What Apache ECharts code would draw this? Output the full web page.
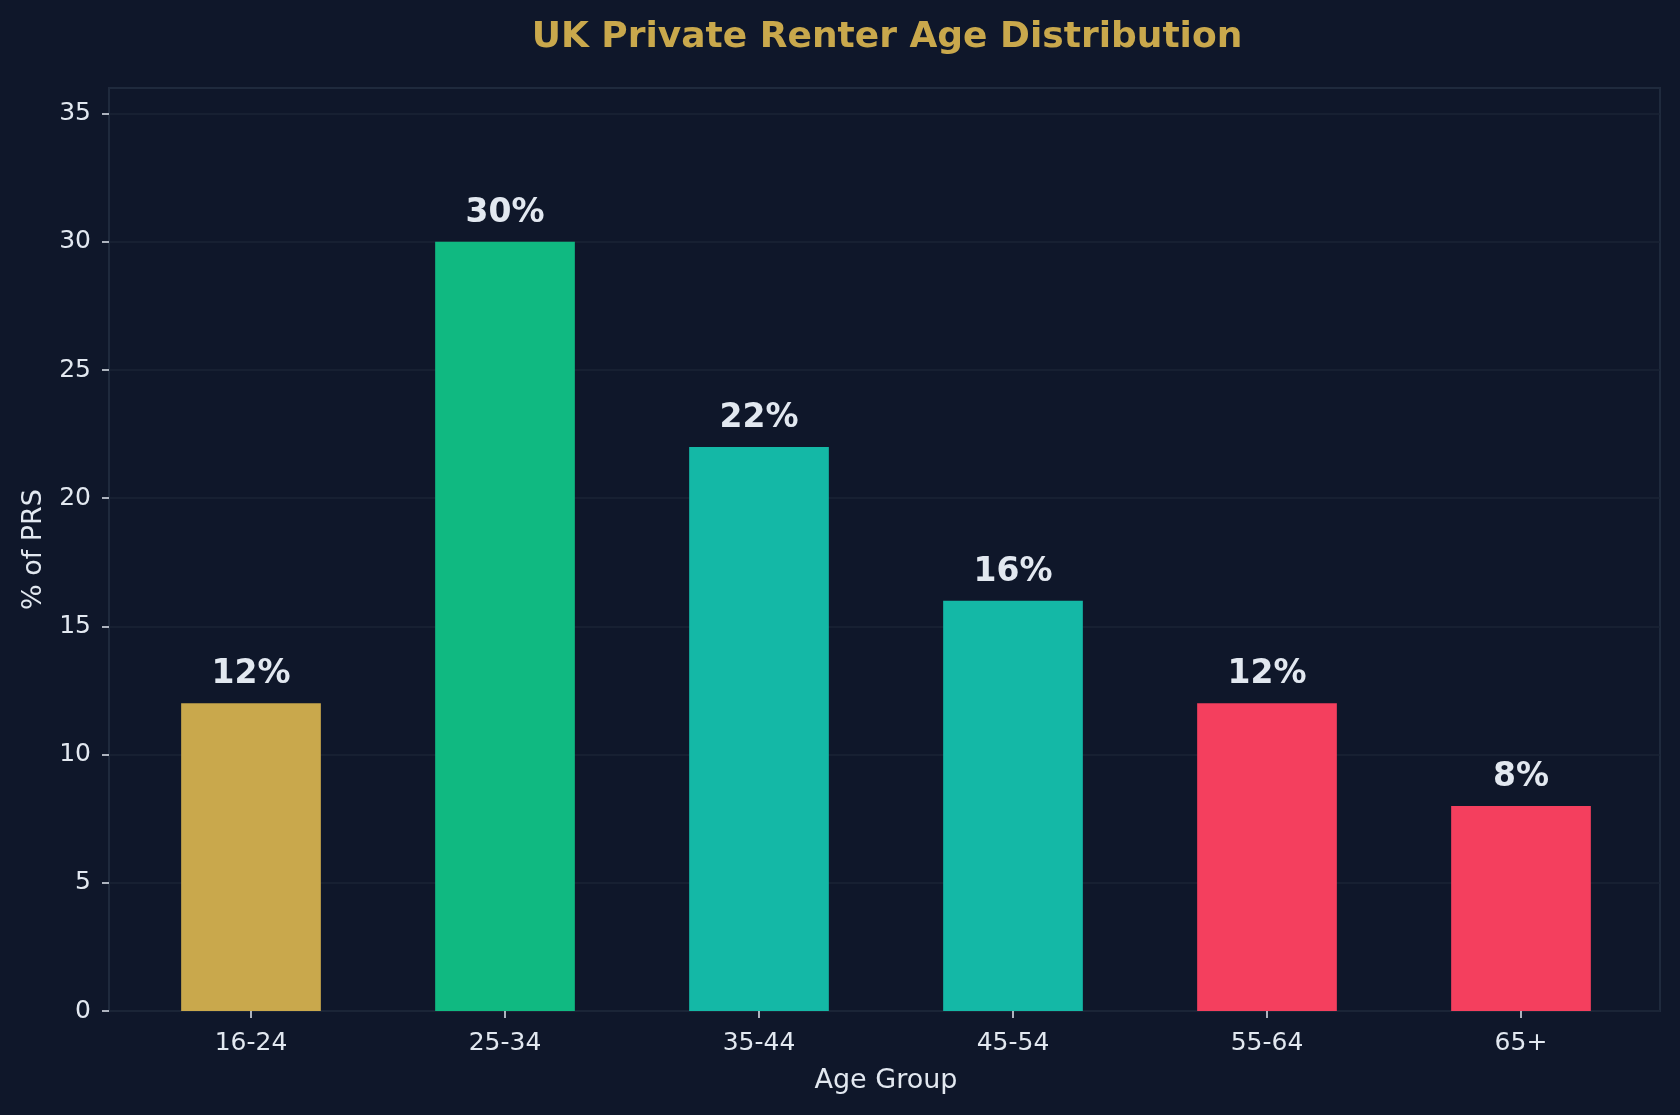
<!DOCTYPE html>
<html>
<head>
<meta charset="utf-8">
<script src="https://cdn.jsdelivr.net/npm/echarts@6/dist/echarts.min.js"></script>
<style>
  html, body { margin: 0; padding: 0; background: #0f172a; }
  #chart { width: 1680px; height: 1115px; }
</style>
</head>
<body>
<div id="chart"></div>
<script>
const ageGroups = ['16-24', '25-34', '35-44', '45-54', '55-64', '65+']
const sharePct = [12, 30, 22, 16, 12, 8]
const barColors = ['#c9a84c', '#10b981', '#14b8a6', '#14b8a6', '#f43f5e', '#f43f5e']
const yTicks = [0, 5, 10, 15, 20, 25, 30, 35]

const textColor = '#e2e8f0'
const font = 'DejaVu Sans'

const chart = echarts.init(document.getElementById('chart'))

const option = {
  backgroundColor: '#0f172a',
  title: {
    text: 'UK Private Renter Age Distribution',
    left: 882,
    top: 15,
    textAlign: 'center',
    textStyle: { color: '#c9a84c', fontSize: 36, fontWeight: 'bold', fontFamily: font }
  },
  grid: [
    // bars: band layout matches the frame's margins
    { left: 124, right: 32, top: 88, bottom: 104 },
    // frame + y axis
    { left: 109, right: 20, top: 88, bottom: 104, show: true, borderColor: '#1f2a3d', borderWidth: 2 }
  ],
  xAxis: [
    {
      gridIndex: 0,
      type: 'category',
      data: ageGroups,
      axisLine: { show: false },
      axisTick: { show: true, alignWithLabel: true, length: 7, lineStyle: { color: textColor, width: 1.5 } },
      axisLabel: { color: textColor, fontSize: 25, fontFamily: font, margin: 20 },
      name: 'Age Group',
      nameLocation: 'middle',
      nameGap: 56,
      nameTextStyle: { color: textColor, fontSize: 27, fontFamily: font }
    },
    { gridIndex: 1, type: 'value', min: 0, max: 1, show: false }
  ],
  yAxis: [
    { gridIndex: 0, type: 'value', min: 0, max: 36, show: false },
    {
      gridIndex: 1,
      type: 'value',
      min: 0,
      max: 36,
      interval: 5,
      axisLine: { show: false },
      axisTick: { show: true, length: 7, customValues: yTicks, lineStyle: { color: textColor, width: 1.5 } },
      axisLabel: { color: textColor, fontSize: 25, fontFamily: font, margin: 18, customValues: yTicks },
      splitLine: { show: true, lineStyle: { color: '#1b2536', width: 1.5 } },
      name: '% of PRS',
      nameLocation: 'middle',
      nameGap: 62,
      nameTextStyle: { color: textColor, fontSize: 27, fontFamily: font }
    }
  ],
  series: [
    {
      type: 'bar',
      xAxisIndex: 0,
      yAxisIndex: 0,
      barWidth: '55%',
      data: sharePct.map((v, i) => ({ value: v, itemStyle: { color: barColors[i] } })),
      label: {
        show: true,
        position: 'top',
        distance: 12,
        formatter: p => p.value + '%',
        color: textColor,
        fontSize: 33,
        fontWeight: 'bold',
        fontFamily: font
      }
    }
  ]
}

option && chart.setOption(option)
</script>
</body>
</html>
